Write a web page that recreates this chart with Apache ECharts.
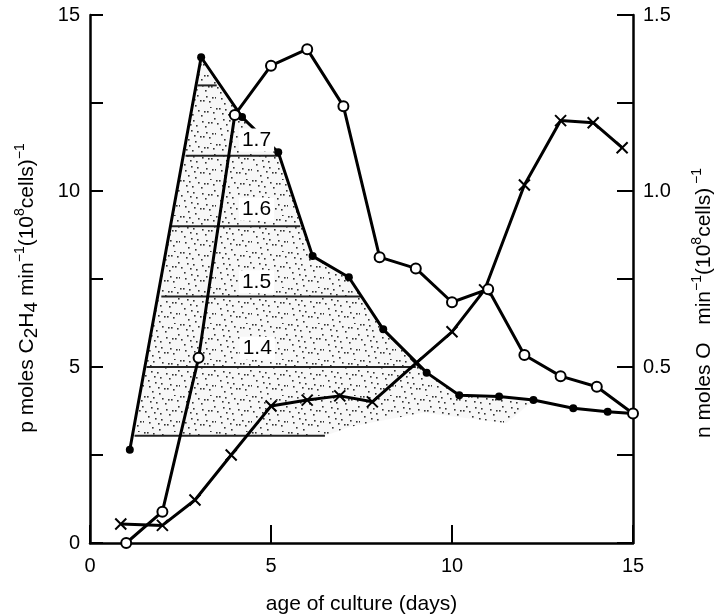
<!DOCTYPE html>
<html>
<head>
<meta charset="utf-8">
<script src="https://cdn.jsdelivr.net/npm/echarts@6/dist/echarts.min.js"></script>
<style>html,body{margin:0;background:#fff}#chart{width:720px;height:615px}</style>
</head>
<body>
<div id="chart"></div>
<script>
// filled circles (left axis, p moles C2H4)
const filledDays = [1.1, 3.07, 4.2, 5.2, 6.15, 7.15, 8.1, 9.3, 10.2, 11.3, 12.25, 13.35, 14.3, 15];
const filledVals = [2.65, 13.8, 12.1, 11.1, 8.15, 7.55, 6.07, 4.84, 4.2, 4.16, 4.06, 3.83, 3.73, 3.68];
// open circles (right axis, n moles O)
const openDays = [1, 2, 3, 4, 5, 6, 7, 8, 9, 10, 11, 12, 13, 14, 15];
const openVals = [0, 0.089, 0.526, 1.216, 1.356, 1.403, 1.241, 0.812, 0.78, 0.684, 0.721, 0.534, 0.474, 0.444, 0.368];
// crosses (left axis)
const crossDays = [0.85, 2, 2.9, 3.9, 5, 6, 6.9, 7.8, 9, 10, 10.9, 12, 13, 13.9, 14.7];
const crossVals = [0.54, 0.5, 1.22, 2.5, 3.89, 4.06, 4.18, 4.01, 5.1, 6.0, 7.19, 10.17, 12.0, 11.94, 11.23];
// stippled region outline
const shadeDays = [1.17, 3.07, 4.2, 5.2, 6.15, 7.15, 8.1, 9.3, 10.2, 11.3, 12.2, 11.5, 9.2, 7.2, 6.5];
const shadeVals = [3.05, 13.8, 12.1, 11.1, 8.15, 7.55, 6.07, 4.84, 4.2, 4.16, 4.0, 3.4, 3.7, 3.3, 3.05];
// horizontal band lines
const bandY = [13, 11, 9, 7, 5, 3.05];
const bandFrom = [2.97, 2.64, 2.24, 1.97, 1.56, 1.23];
const bandTo = [3.5, 5.24, 5.81, 7.5, 9.0, 6.49];
// band labels
const bandLabels = ['1.7', '1.6', '1.5', '1.4'];
const labelDays = [4.6, 4.6, 4.6, 4.62];
const labelVals = [11.45, 9.48, 7.42, 5.53];

const FONT = 'Liberation Sans, Arial, sans-serif';

function stipple() {
  const c = document.createElement('canvas');
  c.width = c.height = 36;
  const g = c.getContext('2d');
  g.fillStyle = 'rgba(0,0,0,0.03)';
  g.fillRect(0, 0, 36, 36);
  g.fillStyle = '#333';
  for (let i = 0; i < 34; i++) {
    const x = (i * 17) % 36, y = (i * 23 + (i >> 2) * 5) % 36;
    g.fillRect(x, y, 1.6, 1.6);
  }
  return c;
}
const pattern = { type: 'pattern', image: stipple(), repeat: 'repeat' };

const pair = (xs, ys) => xs.map((x, i) => [x, ys[i]]);

const chart = echarts.init(document.getElementById('chart'));
chart.setOption({
  animation: false,
  backgroundColor: '#fff',
  grid: { left: 90, right: 87, top: 15, bottom: 72, outerBoundsMode: 'none', containLabel: false },
  xAxis: {
    type: 'value', min: 0, max: 15, interval: 5,
    axisLine: { show: true, lineStyle: { color: '#000', width: 2.5 } },
    axisTick: { show: true, inside: true, length: 18, lineStyle: { color: '#000', width: 2 } },
    axisLabel: { margin: 13, fontSize: 20, color: '#000', fontFamily: FONT },
    splitLine: { show: false },
    name: 'age of culture (days)', nameLocation: 'middle', nameGap: 51,
    nameTextStyle: { fontSize: 21, color: '#000', fontFamily: FONT }
  },
  yAxis: [{
    type: 'value', min: 0, max: 15, interval: 2.5,
    axisLine: { show: true, lineStyle: { color: '#000', width: 2.5 } },
    axisTick: { show: true, inside: true, length: 13, lineStyle: { color: '#000', width: 2 } },
    axisLabel: { margin: 10, fontSize: 20, color: '#000', fontFamily: FONT,
      formatter: v => (v % 5 === 0 ? String(v) : '') },
    splitLine: { show: false }
  }, {
    type: 'value', min: 0, max: 1.5, interval: 0.25, position: 'right',
    axisLine: { show: true, lineStyle: { color: '#000', width: 2.5 } },
    axisTick: { show: true, inside: true, length: 16, lineStyle: { color: '#000', width: 2 } },
    axisLabel: { margin: 10, fontSize: 20, color: '#000', fontFamily: FONT,
      formatter: v => (v > 0 && Math.abs(v * 2 - Math.round(v * 2)) < 1e-6 ? v.toFixed(1) : '') },
    splitLine: { show: false }
  }],
  graphic: [{
    type: 'text', x: 27, y: 288, rotation: Math.PI / 2,
    style: {
      text: '{n|p moles C}{sub|2}{n|H}{sub|4}{n| min}{sup|−1}{n|(10}{sup|8}{n|cells)}{sup|−1}',
      align: 'center', verticalAlign: 'middle', fill: '#000',
      rich: {
        n: { fontSize: 21, fontFamily: FONT, lineHeight: 28, fill: '#000' },
        sub: { fontSize: 19, fontFamily: FONT, verticalAlign: 'bottom', lineHeight: 20, fill: '#000' },
        sup: { fontSize: 14, fontFamily: FONT, verticalAlign: 'top', lineHeight: 15, fill: '#000' }
      }
    }
  }, {
    type: 'text', x: 704, y: 303, rotation: Math.PI / 2,
    style: {
      text: '{n|n moles O   min}{sup|−1}{n|(10}{sup|8}{n|cells)}{sup| −1}',
      align: 'center', verticalAlign: 'middle', fill: '#000',
      rich: {
        n: { fontSize: 21, fontFamily: FONT, lineHeight: 28, fill: '#000' },
        sup: { fontSize: 14, fontFamily: FONT, verticalAlign: 'top', lineHeight: 15, fill: '#000' }
      }
    }
  }],
  series: [{
    type: 'custom', z: 1, silent: true,
    data: [[0, 0]],
    renderItem: (p, api) => ({
      type: 'polygon',
      shape: { points: shadeDays.map((d, i) => api.coord([d, shadeVals[i]])) },
      style: { fill: pattern, stroke: null }
    })
  }, {
    type: 'custom', z: 2, silent: true,
    data: bandY.map((y, i) => [bandFrom[i], bandTo[i], y]),
    encode: { x: [0, 1], y: 2 },
    renderItem: (p, api) => {
      const a = api.coord([api.value(0), api.value(2)]);
      const b = api.coord([api.value(1), api.value(2)]);
      return { type: 'line', shape: { x1: a[0], y1: a[1], x2: b[0], y2: b[1] },
        style: { stroke: '#222', lineWidth: 2 } };
    }
  }, {
    type: 'line', z: 3, data: pair(filledDays, filledVals),
    symbol: 'circle', symbolSize: 8, showSymbol: true,
    lineStyle: { color: '#000', width: 3 },
    itemStyle: { color: '#000' }
  }, {
    type: 'line', z: 4, yAxisIndex: 1, data: pair(openDays, openVals),
    symbol: 'circle', symbolSize: 10, showSymbol: true,
    lineStyle: { color: '#000', width: 3 },
    itemStyle: { color: '#fff', borderColor: '#000', borderWidth: 2 }
  }, {
    type: 'line', z: 3, data: pair(crossDays, crossVals),
    symbol: 'path://M0,0L10,10M10,0L0,10', symbolSize: 11, showSymbol: true,
    lineStyle: { color: '#000', width: 3 },
    itemStyle: { color: '#000', borderColor: '#000', borderWidth: 2 }
  }, {
    type: 'scatter', z: 10, silent: true, symbolSize: 0,
    itemStyle: { opacity: 1, color: '#000' },
    data: bandLabels.map((t, i) => ({ name: t, value: [labelDays[i], labelVals[i]] })),
    label: {
      show: true, position: 'inside', formatter: '{b}', opacity: 1,
      fontSize: 21, color: '#000', fontFamily: FONT,
      backgroundColor: '#fff', padding: [1, 3]
    }
  }]
});
</script>
</body>
</html>
